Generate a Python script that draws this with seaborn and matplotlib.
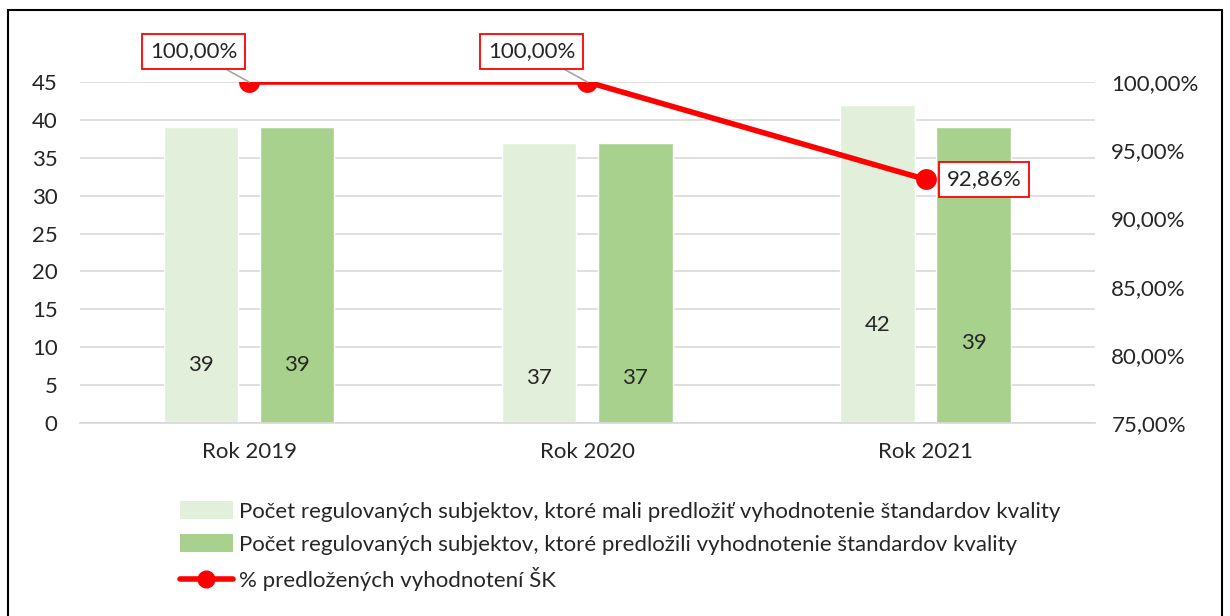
import pandas as pd
import matplotlib.pyplot as plt
import seaborn as sns
from matplotlib.lines import Line2D
from matplotlib.patches import Patch, Rectangle

# Datos
roky = ["Rok 2019", "Rok 2020", "Rok 2021"]
mali_predlozit = [39, 37, 42]
predlozili = [39, 37, 39]
percento = [1.0, 1.0, 0.9286]

s1 = "Počet regulovaných subjektov, ktoré mali predložiť vyhodnotenie štandardov kvality"
s2 = "Počet regulovaných subjektov, ktoré predložili vyhodnotenie štandardov kvality"
s3 = "% predložených vyhodnotení ŠK"

# pozicie popiskov v stlpcoch (ako v originale, rucne posunute)
label_y1 = [7.6, 5.9, 12.9]
label_y2 = [7.6, 5.9, 10.6]

sns.set_theme(style="white")
plt.rcParams["font.family"] = ["Lato", "DejaVu Sans"]
FS = 16

df = pd.DataFrame({
    "rok": roky * 2,
    "hodnota": mali_predlozit + predlozili,
    "serie": [s1] * 3 + [s2] * 3,
})

fig = plt.figure(figsize=(12.3, 6.16), dpi=100)
ax = fig.add_axes([0.065, 0.3133, 0.825, 0.5536])

colors = ["#e2efda", "#a9d18e"]
sns.barplot(data=df, x="rok", y="hodnota", hue="serie", palette=colors,
            width=0.569, gap=0.227, ax=ax, legend=False, saturation=1)

ax.set_ylim(0, 45)
ax.set_yticks(range(0, 46, 5))
ax.set_xlim(-0.5, 2.5)
ax.set_xlabel("")
ax.set_ylabel("")
ax.yaxis.grid(True, color="#d9d9d9", linewidth=1.2)
ax.set_axisbelow(True)
for sp in ax.spines.values():
    sp.set_visible(False)
ax.spines["bottom"].set_visible(True)
ax.spines["bottom"].set_color("#d9d9d9")
ax.tick_params(axis="y", labelsize=FS, length=0, pad=16)
ax.tick_params(axis="x", labelsize=FS, length=0, pad=14)

# popisky v stlpcoch
bar_off = 0.569 / 4
for i in range(3):
    ax.text(i - bar_off, label_y1[i], str(mali_predlozit[i]), ha="center", va="center", fontsize=FS)
    ax.text(i + bar_off, label_y2[i], str(predlozili[i]), ha="center", va="center", fontsize=FS)

# sekundarna os
ax2 = ax.twinx()
sns.lineplot(x=[0, 1, 2], y=percento, ax=ax2, color="#ff0000", linewidth=4,
             marker="o", markersize=15, markeredgewidth=0)
ax2.set_ylim(0.75, 1.0)
ax2.set_yticks([0.75, 0.80, 0.85, 0.90, 0.95, 1.0])
ax2.set_yticklabels([f"{v * 100:.2f}%".replace(".", ",") for v in ax2.get_yticks()])
ax2.tick_params(axis="y", labelsize=FS, length=0, pad=12)
for sp in ax2.spines.values():
    sp.set_visible(False)

box = dict(boxstyle="square,pad=0.35", fc="white", ec="#ff0000", lw=1.3)
offsets = [(-40, 22), (-40, 22), (42, 0)]
for i, v in enumerate(percento):
    txt = f"{v * 100:.2f}%".replace(".", ",")
    arrow = dict(arrowstyle="-", color="#a6a6a6", lw=1.2, shrinkA=0, shrinkB=0) if i < 2 else None
    ax2.annotate(txt, xy=(i, v), xytext=offsets[i], textcoords="offset points",
                 ha="center", va="center", fontsize=FS, bbox=box,
                 arrowprops=arrow, annotation_clip=False, zorder=5)

# legenda
handles = [
    Patch(facecolor=colors[0], edgecolor="none"),
    Patch(facecolor=colors[1], edgecolor="none"),
    Line2D([0], [0], color="#ff0000", lw=4, marker="o", markersize=12),
]
fig.legend(handles, [s1, s2, s3], loc="upper left", bbox_to_anchor=(0.137, 0.205),
           frameon=False, fontsize=FS, handlelength=2.4, handleheight=0.9,
           labelspacing=0.55, handletextpad=0.25, borderpad=0)

# ramcek okolo grafu
fig.patches.append(Rectangle((8 / 1230, -0.01), 1214 / 1230, 1 - 10 / 616 + 0.01,
                             transform=fig.transFigure, fill=False, ec="black", lw=1.5))

fig.savefig("out.png", dpi=100)
plt.close(fig)
